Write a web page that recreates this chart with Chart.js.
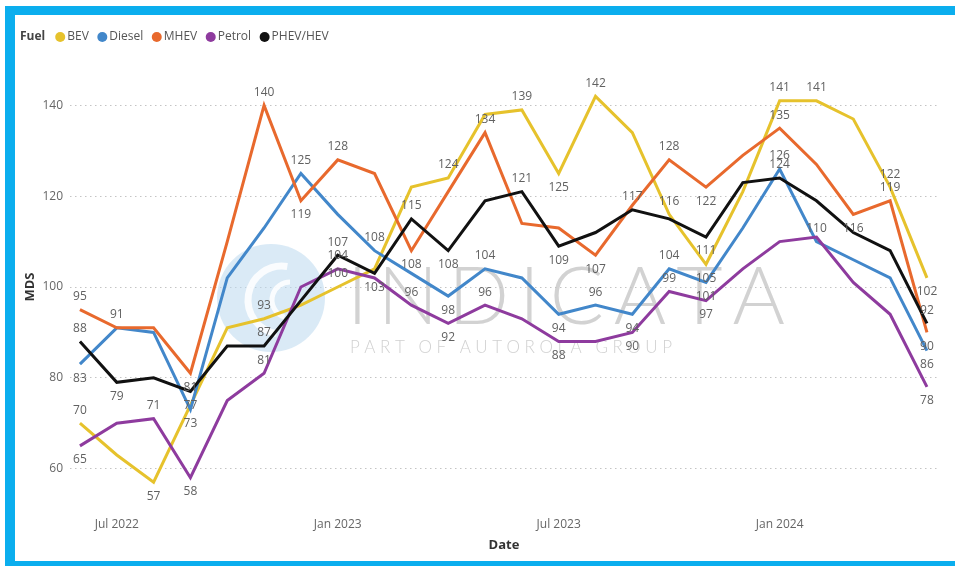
<!DOCTYPE html>
<html>
<head>
<meta charset="utf-8">
<title>MDS by fuel type</title>
<script src="https://cdn.jsdelivr.net/npm/chart.js@4.4.1/dist/chart.umd.min.js"></script>
<style>
  html, body { margin: 0; padding: 0; background: #fff; }
  #wrap { position: relative; width: 955px; height: 566px; }
  canvas { display: block; }
</style>
</head>
<body>
<div id="wrap"><canvas id="chart" width="955" height="566"></canvas></div>
<script>
// Monthly periods on the x axis
const months = [
  "Jun 2022", "Jul 2022", "Aug 2022", "Sep 2022", "Oct 2022", "Nov 2022", "Dec 2022",
  "Jan 2023", "Feb 2023", "Mar 2023", "Apr 2023", "May 2023", "Jun 2023", "Jul 2023",
  "Aug 2023", "Sep 2023", "Oct 2023", "Nov 2023", "Dec 2023",
  "Jan 2024", "Feb 2024", "Mar 2024", "Apr 2024", "May 2024"
];
const xTickMonths = ["Jul 2022", "Jan 2023", "Jul 2023", "Jan 2024"];
const yTicks = [60, 80, 100, 120, 140];

// Fuel types
const seriesNames = ["BEV", "Diesel", "MHEV", "Petrol", "PHEV/HEV"];

// MDS per month and fuel type
const bev    = [70, 63, 57, 74, 91, 93, 96, 100, 104, 122, 124, 138, 139, 125, 142, 134, 116, 105, 121, 141, 141, 137, 122, 102];
const diesel = [83, 91, 90, 73, 102, 113, 125, 116, 108, 103, 98, 104, 102, 94, 96, 94, 104, 101, 113, 126, 110, 106, 102, 86];
const mhev   = [95, 91, 91, 81, 110, 140, 119, 128, 125, 108, 121, 134, 114, 113, 107, 118, 128, 122, 129, 135, 127, 116, 119, 90];
const petrol = [65, 70, 71, 58, 75, 81, 100, 104, 102, 96, 92, 96, 93, 88, 88, 90, 99, 97, 104, 110, 111, 101, 94, 78];
const phev   = [88, 79, 80, 77, 87, 87, 97, 107, 103, 115, 108, 119, 121, 109, 112, 117, 115, 111, 123, 124, 119, 112, 108, 92];

const seriesValues = [bev, diesel, mhev, petrol, phev];
const seriesColors = ["#E6C22C", "#4287CA", "#E8692D", "#8E3B9E", "#111111"];

// Where each value label sits: a = above the point, b = below, . = not shown
const labelSide = {
  "BEV":      "a.b..a.a..a.aba.ab.aa.ab",
  "Diesel":   "b..b..a.a.ba.babab.aa..b",
  "MHEV":     "aa.b.aba.b.a..b.ab.a.bab",
  "Petrol":   "b.ab.a.a.aba.b.bab.....b",
  "PHEV/HEV": "ab.b.a.abab.ab.a.b.a...a"
};

const FONT = "'Segoe UI', 'Open Sans', 'Noto Sans', sans-serif";

// Cyan frame, white page and the INDICATA watermark behind the lines
const backdrop = {
  id: 'backdrop',
  beforeDraw(chart) {
    const ctx = chart.ctx;
    ctx.save();
    ctx.fillStyle = '#ffffff';
    ctx.fillRect(0, 0, chart.width, chart.height);
    ctx.fillStyle = '#0BAEEE';
    ctx.fillRect(5, 6, chart.width - 5, 9);
    ctx.fillRect(5, 6, 10, chart.height - 6);
    ctx.fillRect(5, chart.height - 5, chart.width - 5, 5);
    ctx.restore();
  },
  beforeDatasetsDraw(chart) {
    const ctx = chart.ctx;
    ctx.save();
    // round logo
    ctx.fillStyle = 'rgba(188, 217, 238, 0.55)';
    ctx.beginPath();
    ctx.arc(271, 298, 54, 0, Math.PI * 2);
    ctx.fill();
    ctx.strokeStyle = 'rgba(255,255,255,0.85)';
    ctx.lineWidth = 7;
    ctx.beginPath();
    ctx.arc(282, 300, 34, 0.55 * Math.PI, 1.55 * Math.PI);
    ctx.stroke();
    ctx.lineWidth = 5;
    ctx.beginPath();
    ctx.arc(290, 300, 18, 0.6 * Math.PI, 1.5 * Math.PI);
    ctx.stroke();

    const spaced = (text, x0, x1, baseline) => {
      const chars = Array.from(text);
      const widths = chars.map(c => ctx.measureText(c).width);
      const total = widths.reduce((a, b) => a + b, 0);
      const gap = (x1 - x0 - total) / (chars.length - 1);
      let x = x0;
      chars.forEach((c, k) => { ctx.fillText(c, x, baseline); x += widths[k] + gap; });
    };
    ctx.textAlign = 'left';
    ctx.textBaseline = 'alphabetic';
    ctx.fillStyle = 'rgba(192, 192, 192, 0.72)';
    ctx.font = "300 80px Lato, 'Open Sans', sans-serif";
    spaced("INDICATA", 347, 785, 324);
    ctx.fillStyle = 'rgba(192, 192, 192, 0.75)';
    ctx.font = "300 17px Lato, 'Open Sans', sans-serif";
    spaced("PART OF AUTOROLA GROUP", 350, 672, 353);
    ctx.restore();
  }
};

// Value labels next to the points
const valueLabels = {
  id: 'valueLabels',
  afterDatasetsDraw(chart) {
    const ctx = chart.ctx;
    ctx.save();
    ctx.font = `12px ${FONT}`;
    ctx.fillStyle = '#616161';
    ctx.textAlign = 'center';
    ctx.textBaseline = 'middle';
    chart.data.datasets.forEach((ds, i) => {
      const meta = chart.getDatasetMeta(i);
      const sides = labelSide[ds.label];
      meta.data.forEach((pt, j) => {
        const s = sides[j];
        if (s === '.') return;
        const y = s === 'a' ? pt.y - 13 : pt.y + 14;
        ctx.fillText(String(seriesValues[i][j]), pt.x, y);
      });
    });
    ctx.restore();
  }
};

// Inline legend with the "Fuel" caption
const fuelLegend = {
  id: 'fuelLegend',
  afterDraw(chart) {
    const ctx = chart.ctx;
    const y = 37;
    let x = 20;
    ctx.save();
    ctx.textAlign = 'left';
    ctx.textBaseline = 'middle';
    ctx.font = `bold 12px ${FONT}`;
    ctx.fillStyle = '#444';
    ctx.fillText('Fuel', x, y);
    x += ctx.measureText('Fuel').width + 10;
    ctx.font = `12px ${FONT}`;
    chart.data.datasets.forEach(ds => {
      ctx.fillStyle = ds.borderColor;
      ctx.beginPath();
      ctx.arc(x + 5, y, 5, 0, Math.PI * 2);
      ctx.fill();
      ctx.fillStyle = '#555';
      ctx.fillText(ds.label, x + 12, y);
      x += 12 + ctx.measureText(ds.label).width + 8.5;
    });
    ctx.restore();
  }
};

const datasets = seriesNames.map((name, i) => ({
  label: name,
  data: seriesValues[i].map((v, j) => ({ x: j, y: v })),
  borderColor: seriesColors[i],
  backgroundColor: seriesColors[i],
  borderWidth: 3,
  pointRadius: 0,
  pointHoverRadius: 0,
  tension: 0,
  fill: false,
  order: seriesNames.length - i
}));

new Chart(document.getElementById('chart'), {
  type: 'line',
  data: { datasets },
  options: {
    responsive: false,
    animation: false,
    devicePixelRatio: 1,
    layout: { padding: { left: 20, right: 17, top: 60, bottom: 8 } },
    plugins: {
      legend: { display: false },
      tooltip: { enabled: false }
    },
    scales: {
      x: {
        type: 'linear',
        min: -0.27,
        max: 23.3,
        afterBuildTicks: s => { s.ticks = xTickMonths.map(m => ({ value: months.indexOf(m) })); },
        afterFit: s => { s.height = 44; },
        ticks: {
          callback: v => months[v],
          color: '#666',
          font: { size: 12, family: FONT },
          padding: 3,
          maxRotation: 0,
          autoSkip: false
        },
        grid: { display: false, drawTicks: false },
        border: { display: false },
        title: {
          display: true,
          text: 'Date',
          color: '#333',
          font: { size: 13, weight: 'bold', family: FONT },
          padding: { top: 0, bottom: 5 }
        }
      },
      y: {
        min: 50,
        max: 150,
        afterBuildTicks: s => { s.ticks = yTicks.map(v => ({ value: v })); },
        afterFit: s => { s.width = 50; },
        ticks: {
          color: '#666',
          font: { size: 12, family: FONT },
          padding: 7
        },
        grid: { color: '#c4c4c4', lineWidth: 1, drawTicks: false },
        border: { display: false, dash: [1.5, 3.5] },
        title: {
          display: true,
          text: 'MDS',
          color: '#333',
          font: { size: 13, weight: 'bold', family: FONT },
          padding: { top: 2, bottom: 0 }
        }
      }
    }
  },
  plugins: [backdrop, valueLabels, fuelLegend]
});
</script>
</body>
</html>
